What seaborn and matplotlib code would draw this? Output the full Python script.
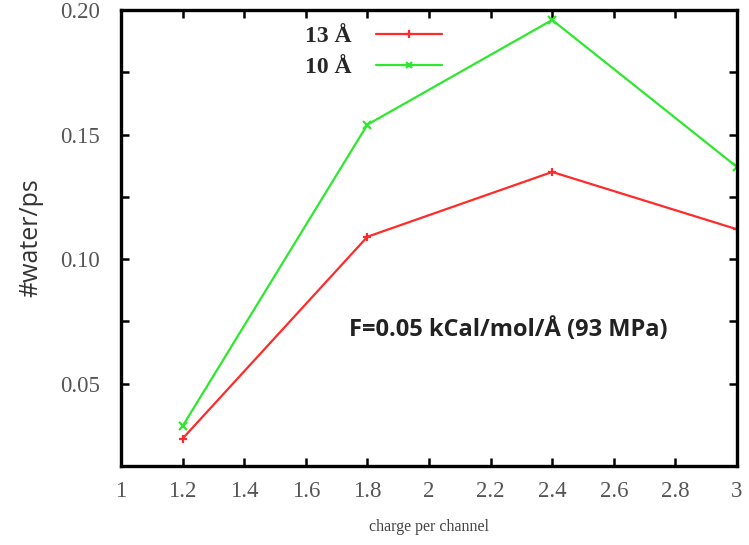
import matplotlib
matplotlib.use("Agg")
import matplotlib.pyplot as plt
import seaborn as sns
import pandas as pd
from matplotlib.lines import Line2D

charge = [1.2, 1.8, 2.4, 3.0]
water_13 = [0.028, 0.109, 0.135, 0.112]
water_10 = [0.033, 0.154, 0.196, 0.137]
series = ["13 Å", "10 Å"]
x_ticks = [1, 1.2, 1.4, 1.6, 1.8, 2, 2.2, 2.4, 2.6, 2.8, 3]
x_ticklabels = ["1", "1.2", "1.4", "1.6", "1.8", "2", "2.2", "2.4", "2.6", "2.8", "3"]
y_ticks = [0.05, 0.10, 0.15, 0.20]
y_ticklabels = ["0.05", "0.10", "0.15", "0.20"]
y_minor = [0.075, 0.125, 0.175]

df = pd.DataFrame({
    "charge": charge * 2,
    "water": water_13 + water_10,
    "series": [series[0]] * len(charge) + [series[1]] * len(charge),
})

sns.set_style("white")
fig = plt.figure(figsize=(7.49, 5.45), dpi=100)
ax = fig.add_axes([121 / 749, 1 - 466 / 545, (737 - 121) / 749, (466 - 10) / 545])

palette = {series[0]: "#ff2a2a", series[1]: "#2ee82e"}
sns.lineplot(data=df, x="charge", y="water", hue="series", style="series",
             markers={series[0]: "+", series[1]: "x"}, dashes=False,
             palette=palette, linewidth=1.6, markersize=6, markeredgewidth=1.6,
             ax=ax, legend=False)
for ln in ax.lines:
    ln.set_markeredgecolor(ln.get_color())

ax.set_xlim(1, 3)
ax.set_ylim(0.017, 0.20)
ax.set_xticks(x_ticks)
ax.set_xticklabels(x_ticklabels)
ax.set_yticks(y_ticks)
ax.set_yticklabels(y_ticklabels)
ax.set_yticks(y_minor, minor=True)

for s in ax.spines.values():
    s.set_linewidth(2.4)
    s.set_color("black")
    s.set_visible(True)

ax.tick_params(axis="both", which="both", direction="in", top=True, right=True,
               bottom=True, left=True, length=6, width=1.8, color="black")
ax.tick_params(axis="y", pad=15)
ax.tick_params(axis="x", pad=11)
for lab in ax.get_xticklabels() + ax.get_yticklabels():
    lab.set_fontfamily("Liberation Serif")
    lab.set_fontsize(16.5)
    lab.set_color("#555555")

ax.set_xlabel("charge per channel", fontfamily="Liberation Serif", fontsize=11.5,
              color="#444444", labelpad=12)
ax.set_ylabel("#water/ps", fontfamily="Open Sans", fontsize=18, color="#333333",
              labelpad=12)

handles = [Line2D([], [], color=palette[series[0]], marker="+", lw=1.6, ms=6, mew=1.6),
           Line2D([], [], color=palette[series[1]], marker="x", lw=1.6, ms=5, mew=1.6)]
leg = ax.legend(handles, series, loc="upper left", bbox_to_anchor=(0.264, 1.012),
                frameon=False, markerfirst=False, handlelength=2.8, handletextpad=1.05,
                labelspacing=0.4, prop={"family": "Liberation Serif", "weight": "bold", "size": 17})

ax.text((508 - 121) / 616, (466 - 330) / 456, "F=0.05 kCal/mol/Å (93 MPa)", transform=ax.transAxes,
        fontfamily="Open Sans", fontweight="bold", fontsize=17, color="#222222",
        ha="center", va="center")

fig.savefig("out.png", dpi=100)
